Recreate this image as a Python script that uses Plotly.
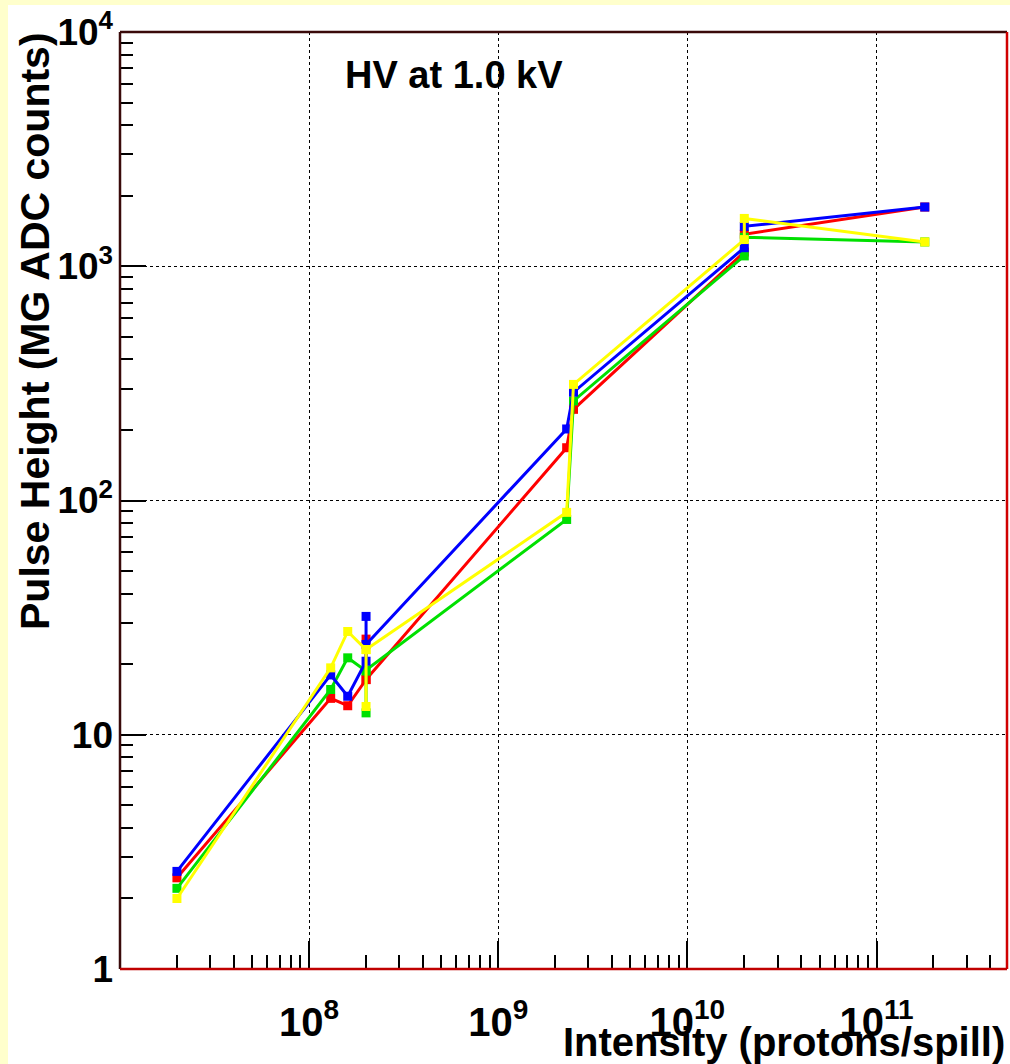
import plotly.graph_objects as go

# ---- data ----
intensity = [2e7, 1.3e8, 1.6e8, 2e8, 2e8, 2e8, 2.3e9, 2.5e9, 2e10, 2e10, 1.8e11]
red_ph    = [2.45, 14.3, 13.3, 17.2, 25.6, 17.2, 168, 245, 1150, 1370, 1790]
green_ph  = [2.21, 15.6, 21.3, 18.7, 12.4, 18.9, 83, 266, 1107, 1330, 1270]
blue_ph   = [2.61, 18.0, 14.6, 20.6, 32.0, 24.3, 202, 290, 1200, 1480, 1790]
yellow_ph = [2.00, 19.3, 27.6, 23.1, 13.2, 23.1, 89, 313, 1300, 1600, 1270]

series_names = ["red", "green", "blue", "yellow"]
series_colors = ["#FF0000", "#00E000", "#0000FF", "#FFFF00"]
series_values = [red_ph, green_ph, blue_ph, yellow_ph]

x_tickvals = [1e8, 1e9, 1e10, 1e11]
x_ticktext = ["10<sup>8</sup>", "10<sup>9</sup>", "10<sup>10</sup>", "10<sup>11</sup>"]
y_tickvals = [1, 10, 100, 1000, 10000]
y_ticktext = ["1", "10", "10<sup>2</sup>", "10<sup>3</sup>", "10<sup>4</sup>"]

x_title = "Intensity (protons/spill)"
y_title = "Pulse Height (MG ADC counts)"
note = "HV at 1.0 kV"

FONT = "Liberation Sans, Arial, Helvetica, sans-serif"

fig = go.Figure()
for name, col, vals in zip(series_names, series_colors, series_values):
    fig.add_trace(go.Scatter(
        x=intensity, y=vals, mode="lines+markers", name=name,
        line=dict(color=col, width=3),
        marker=dict(symbol="square", size=9, color=col, line=dict(width=0)),
        showlegend=False,
    ))

x_minor = [m * 10 ** e for e in range(7, 12) for m in range(2, 10) if m * 10 ** e < 5e11]
y_minor = [m * 10 ** e for e in range(0, 4) for m in range(2, 10)]

W, H = 1010, 1064
L, R, T, B = 120, 1007, 32, 969
pw, ph = R - L, B - T

fig.update_layout(
    width=W, height=H,
    margin=dict(l=L, r=W - R, t=T, b=H - B, pad=0),
    paper_bgcolor="#FFFFCC",
    plot_bgcolor="white",
    font=dict(family=FONT, color="black"),
    xaxis=dict(
        type="log", range=[7, 11.69],
        tickmode="array", tickvals=x_tickvals, ticktext=x_ticktext,
        ticks="inside", ticklen=28, tickwidth=1.5, tickcolor="black",
        tickfont=dict(size=40, family=FONT, weight="bold", color="black"),
        ticklabelstandoff=26,
        showgrid=True, gridcolor="black", griddash="dot", gridwidth=1,
        showline=False, zeroline=False,
        minor=dict(tickmode="array", tickvals=x_minor, ticks="inside", ticklen=14,
                   tickwidth=1.5, tickcolor="black", showgrid=False),
    ),
    yaxis=dict(
        type="log", range=[0, 4],
        tickmode="array", tickvals=y_tickvals, ticktext=y_ticktext,
        ticks="inside", ticklen=26, tickwidth=1.5, tickcolor="black",
        tickfont=dict(size=37, family=FONT, weight="bold", color="black"),
        ticklabelstandoff=6,
        showgrid=True, gridcolor="black", griddash="dot", gridwidth=1,
        showline=False, zeroline=False,
        minor=dict(tickmode="array", tickvals=y_minor, ticks="inside", ticklen=13,
                   tickwidth=1.5, tickcolor="black", showgrid=False),
    ),
)

# white canvas with yellow strips left and top
fig.add_shape(type="rect", xref="paper", yref="paper", layer="below",
              x0=(8 - L) / pw, x1=(W - L) / pw + 0.01,
              y0=-(H - B) / ph - 0.01, y1=1 + (T - 5) / ph,
              fillcolor="white", line=dict(width=0))

# frame
frame = [
    ((0, 1), (1, 1), "#3A0A0A"),
    ((0, 0), (0, 1), "#3A0A0A"),
    ((1, 0), (1, 1), "#D00000"),
    ((0, 0), (1, 0), "#C00000"),
]
for (x0, y0), (x1, y1), c in frame:
    fig.add_shape(type="line", xref="paper", yref="paper", layer="above",
                  x0=x0, y0=y0, x1=x1, y1=y1, line=dict(color=c, width=2.5))

fig.add_annotation(text=note, xref="paper", yref="paper",
                   x=(343 - L) / pw, y=(B - 75) / ph, xanchor="left", yanchor="middle",
                   showarrow=False, font=dict(size=38, family=FONT, weight="bold", color="black"))
fig.add_annotation(text=x_title, xref="paper", yref="paper",
                   x=1.0, y=-(1042 - B) / ph, xanchor="right", yanchor="middle",
                   showarrow=False, font=dict(size=40, family=FONT, weight="bold", color="black"))
fig.add_annotation(text=y_title, xref="paper", yref="paper", textangle=-90,
                   x=(35 - L) / pw, y=1 + (T - 30) / ph, xanchor="center", yanchor="top",
                   showarrow=False, font=dict(size=41, family=FONT, weight="bold", color="black"))

fig.write_html("out.html", config={"displayModeBar": False},
               post_script="document.body.style.margin='0';document.body.style.overflow='hidden';")
